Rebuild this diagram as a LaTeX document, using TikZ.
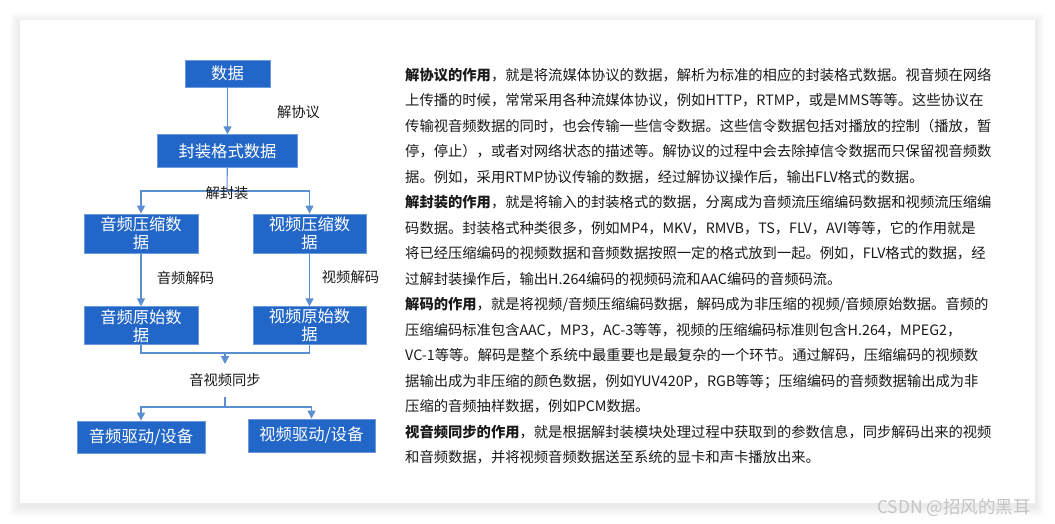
\documentclass[tikz,border=0pt]{standalone}
\usepackage{fontspec}
\setmainfont{Noto Sans CJK SC}
\usetikzlibrary{positioning,arrows.meta}
\definecolor{boxBlue}{HTML}{2266C8}
\definecolor{boxEdge}{HTML}{6C9BDB}
\definecolor{lineBlue}{HTML}{5B8FD0}
\definecolor{markGray}{HTML}{C4C4C4}
\definecolor{inkDark}{HTML}{1A1A1A}
\tikzset{%
  flowBox/.style={
    rectangle, fill=boxBlue, draw=boxEdge, line width=0.8pt,
    text=white, align=center, inner sep=0pt,
    font=\fontsize{16.3}{18}\selectfont},
  stepLabel/.style={font=\fontsize{14.3}{16}\selectfont, text=inkDark, inner sep=0pt},
  flowLine/.style={lineBlue, line width=1.1pt},
  flowArrow/.style={flowLine, -{Triangle[length=8pt,width=8pt]}},
  descLine/.style={anchor=base west, inner sep=0pt, text=inkDark,
    font=\fontsize{14.3}{25.5}\selectfont},
}
\begin{document}
\begin{tikzpicture}[x=1pt, y=-1pt]
  \useasboundingbox (0,0) rectangle (1055,524);
  % card with soft shadow
  \fill[white] (0,0) rectangle (1055,524);
  \foreach \s in {1,...,10}
    \fill[black, opacity=0.006] ({20-\s},{23-\s}) rectangle ({1035+\s},{506+\s});
  \fill[white] (20,20) rectangle (1035,503);

  % flow chart
  \node[flowBox, minimum width=85pt,  minimum height=27pt] (data) at (227.5,73.5) {数据};
  \node[flowBox, minimum width=140pt, minimum height=33pt, below=47pt of data] (pkg) {封装格式数据};
  \node[flowBox, minimum width=114pt, minimum height=39pt] (acomp) at (141,233.5) {音频压缩数\\据};
  \node[flowBox, minimum width=113pt, minimum height=39pt] (vcomp) at (309.5,233.5) {视频压缩数\\据};
  \node[flowBox, minimum width=114pt, minimum height=38pt, below=53pt of acomp] (araw) {音频原始数\\据};
  \node[flowBox, minimum width=113pt, minimum height=38pt, below=53pt of vcomp] (vraw) {视频原始数\\据};
  \node[flowBox, minimum width=128pt, minimum height=32pt] (adev) at (141,437) {音频驱动/设备};
  \node[flowBox, minimum width=127pt, minimum height=33pt] (vdev) at (311.5,435.5) {视频驱动/设备};

  \coordinate (split) at (227,191);
  \coordinate (merge) at (225,353);
  \coordinate (mergeEnd) at (225,364);
  \coordinate (syncTop) at (225,397);
  \coordinate (syncFork) at (225,407);

  \draw[flowArrow] (data) -- (pkg);
  \draw[flowLine]  (pkg) -- (split);
  \draw[flowArrow] (split) -| (acomp);
  \draw[flowArrow] (split) -| (vcomp);
  \draw[flowArrow] (acomp) -- (araw);
  \draw[flowArrow] (vcomp) -- (vraw);
  \draw[flowLine]  (araw.south) |- (merge) -| (vraw.south);
  \draw[flowArrow] (merge) -- (mergeEnd);
  \draw[flowLine]  (syncTop) -- (syncFork);
  \draw[flowArrow] (syncFork) -| (adev);
  \draw[flowArrow] (syncFork) -| (vdev);

  \node[stepLabel] (lProt)  at (298.5,112) {解协议};
  \node[stepLabel] (lDemux) at (227,193)   {解封装};
  \node[stepLabel] (lAdec)  at (185.5,278) {音频解码};
  \node[stepLabel] (lVdec)  at (350.5,277) {视频解码};
  \node[stepLabel] (lSync)  at (225,380)   {音视频同步};

  % description text
  \foreach \txt [count=\i] in {
    {\bfseries 解协议的作用}，就是将流媒体协议的数据，解析为标准的相应的封装格式数据。视音频在网络,
    上传播的时候，常常采用各种流媒体协议，例如HTTP，RTMP，或是MMS等等。这些协议在,
    传输视音频数据的同时，也会传输一些信令数据。这些信令数据包括对播放的控制（播放，暂,
    停，停止），或者对网络状态的描述等。解协议的过程中会去除掉信令数据而只保留视音频数,
    据。例如，采用RTMP协议传输的数据，经过解协议操作后，输出FLV格式的数据。,
    {\bfseries 解封装的作用}，就是将输入的封装格式的数据，分离成为音频流压缩编码数据和视频流压缩编,
    码数据。封装格式种类很多，例如MP4，MKV，RMVB，TS，FLV，AVI等等，它的作用就是,
    将已经压缩编码的视频数据和音频数据按照一定的格式放到一起。例如，FLV格式的数据，经,
    过解封装操作后，输出H.264编码的视频码流和AAC编码的音频码流。,
    {\bfseries 解码的作用}，就是将视频/音频压缩编码数据，解码成为非压缩的视频/音频原始数据。音频的,
    压缩编码标准包含AAC，MP3，AC-3等等，视频的压缩编码标准则包含H.264，MPEG2，,
    VC-1等等。解码是整个系统中最重要也是最复杂的一个环节。通过解码，压缩编码的视频数,
    据输出成为非压缩的颜色数据，例如YUV420P，RGB等等；压缩编码的音频数据输出成为非,
    压缩的音频抽样数据，例如PCM数据。,
    {\bfseries 视音频同步的作用}，就是根据解封装模块处理过程中获取到的参数信息，同步解码出来的视频,
    和音频数据，并将视频音频数据送至系统的显卡和声卡播放出来。}
    \node[descLine] (desc\i) at (405,{80.5+(\i-1)*25.47}) {\txt};

  % watermark
  \node[font=\fontsize{17.5}{18}\selectfont, text=markGray, anchor=east, inner sep=0pt] (mark) at (1031,508) {CSDN @招风的黑耳};
\end{tikzpicture}
\end{document}
